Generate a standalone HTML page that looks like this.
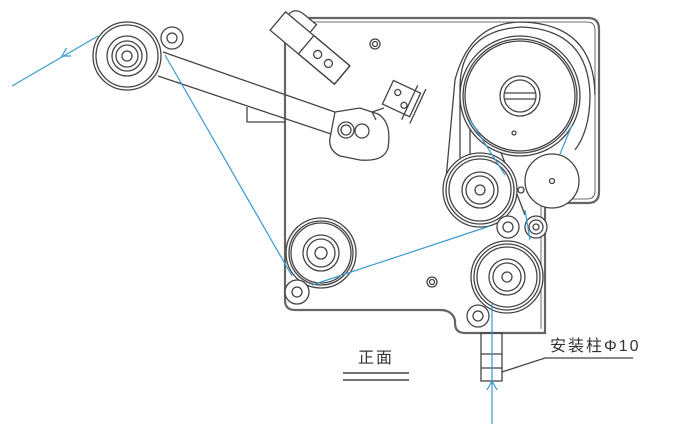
<!DOCTYPE html>
<html><head><meta charset="utf-8"><style>
html,body{margin:0;padding:0;background:#fff;}
svg{display:block;}
text{font-family:"Liberation Sans","Noto Sans CJK SC",sans-serif;}
</style></head><body>
<svg width="680" height="428" viewBox="0 0 680 428" xmlns="http://www.w3.org/2000/svg">
<g fill="none" stroke="#444" stroke-width="1.3">
<!-- plate outline -->
<path d="M293,18 L588,18 Q599,18 599,29 L599,192 Q599,203 588,203 L545,203 L545,333 L465,333 Q455,333 455,323 L455,320 Q452,310 440,310 L295,310 Q285,310 285,300 L285,28 Q285,18 293,18 Z" stroke-width="2.2" stroke="#666"/>
<path d="M290,22 L587,22 Q595,22 595,30 L595,191 Q595,199 587,199 L541,199 L541,329" stroke-width="0.8"/>
<!-- bracket -->
<path d="M247,107 L247,122 L285,122"/>
<!-- holes -->
<circle cx="375" cy="44" r="5"/><circle cx="375" cy="44" r="2.5"/>
<circle cx="432" cy="282" r="5"/><circle cx="432" cy="282" r="2.5"/>
<!-- top-left head -->
<g transform="rotate(40 310 48)">
<path d="M272,36 Q272,26 285,26 L300,26 L300,36" fill="#fff"/>
<rect x="268" y="36" width="84" height="24" fill="#fff"/>
<rect x="305" y="36" width="47" height="24"/>
<circle cx="320" cy="48" r="4"/><circle cx="334" cy="48" r="4"/>
</g>
<!-- small clip -->
<g transform="rotate(25 402 100)">
<rect x="386" y="86" width="30" height="26" fill="#fff"/>
<circle cx="395" cy="95" r="3"/><circle cx="406" cy="104" r="3"/>
<path d="M410,80 L410,118 M419,80 L419,118"/>
</g>
<!-- arm -->
<path d="M163,52 L352,118 M158,76 L340,137"/>
<path d="M335,112 L360,108 L378,114 Q392,122 388,148 Q384,162 360,160 L340,156 Q328,150 330,138 Z" fill="#fff"/>
<circle cx="346" cy="130" r="8" fill="#fff"/><circle cx="346" cy="130" r="5"/>
<circle cx="362" cy="131" r="7"/>
<path d="M376,120 L372,112 L384,108"/>
<!-- top-left roller -->
<circle cx="127" cy="56" r="34" fill="#fff"/><circle cx="127" cy="56" r="31"/>
<circle cx="127" cy="56" r="20"/><circle cx="127" cy="56" r="15"/><circle cx="127" cy="56" r="11"/><circle cx="127" cy="56" r="5"/>
<circle cx="172" cy="38" r="11" fill="#fff"/><circle cx="172" cy="38" r="5"/>
<!-- bottom-left roller -->
<circle cx="321" cy="253" r="35" fill="#fff"/><circle cx="321" cy="253" r="32"/><circle cx="321" cy="253" r="30"/>
<circle cx="321" cy="253" r="18"/><circle cx="321" cy="253" r="14"/><circle cx="321" cy="253" r="6"/>
<circle cx="297" cy="292" r="12" fill="#fff"/><circle cx="297" cy="292" r="5"/>
<!-- belt loop -->
<path d="M460,170 L460,85 Q462,30 522,27 Q588,30 590,95 Q590,130 575,150" />
<path d="M445,190 L455,80 Q470,22 522,22 Q594,24 595,95"/>
<path d="M470,175 L470,90 L500,150 L525,215" />
<!-- reel -->
<circle cx="520" cy="96" r="60" fill="#fff"/><circle cx="520" cy="96" r="57"/><circle cx="520" cy="96" r="55"/>
<circle cx="520" cy="96" r="20"/><circle cx="520" cy="96" r="16"/>
<path d="M505,93 L535,93 M505,99 L535,99"/>
<circle cx="514" cy="133" r="2"/>
<!-- mid roller -->
<circle cx="480" cy="190" r="37" fill="#fff"/><circle cx="480" cy="190" r="34"/><circle cx="480" cy="190" r="31"/>
<circle cx="480" cy="190" r="18"/><circle cx="480" cy="190" r="14"/><circle cx="480" cy="190" r="5"/>
<circle cx="521" cy="190" r="3"/>
<!-- disc -->
<circle cx="552" cy="181" r="27" fill="#fff"/><circle cx="552" cy="181" r="2.5"/>
<!-- small rollers -->
<circle cx="508" cy="227" r="11" fill="#fff"/><circle cx="508" cy="227" r="5"/>
<circle cx="536" cy="227" r="11" fill="#fff"/><circle cx="536" cy="227" r="7"/><circle cx="536" cy="227" r="3"/>
<!-- lower right roller -->
<circle cx="507" cy="277" r="36" fill="#fff"/><circle cx="507" cy="277" r="33"/><circle cx="507" cy="277" r="30"/>
<circle cx="507" cy="277" r="18"/><circle cx="507" cy="277" r="14"/><circle cx="507" cy="277" r="5"/>
<circle cx="478" cy="316" r="11" fill="#fff"/><circle cx="478" cy="316" r="5"/>
<!-- post -->
<rect x="481" y="333" width="21" height="48"/>
<path d="M481,354 L502,354 M481,368 L502,368"/>
<path d="M502,372 L545,358 L633,358"/>
<!-- front mark -->
<path d="M343,373 L409,373 M343,380 L409,380" stroke-width="1.5"/>
</g>
<!-- blue path -->
<g fill="none" stroke="#3a9ad0" stroke-width="1.2">
<path d="M12,86 L98,36"/>
<path d="M71,56 L62,56 L66.5,48"/>
<path d="M165,55 L292,276"/>
<path d="M312,285 L490,226"/>
<path d="M492,424 L492,304"/>
<path d="M487,390 L492,381 L497,390"/>
<path d="M470,120 L505,175 M572,125 L560,154 M525,210 L530,240"/>
</g>
<text x="550" y="351" font-size="16" letter-spacing="2" fill="#333">安装柱Φ10</text>
<text x="358" y="363" font-size="16" letter-spacing="2" fill="#333">正面</text>
</svg>
</body></html>
